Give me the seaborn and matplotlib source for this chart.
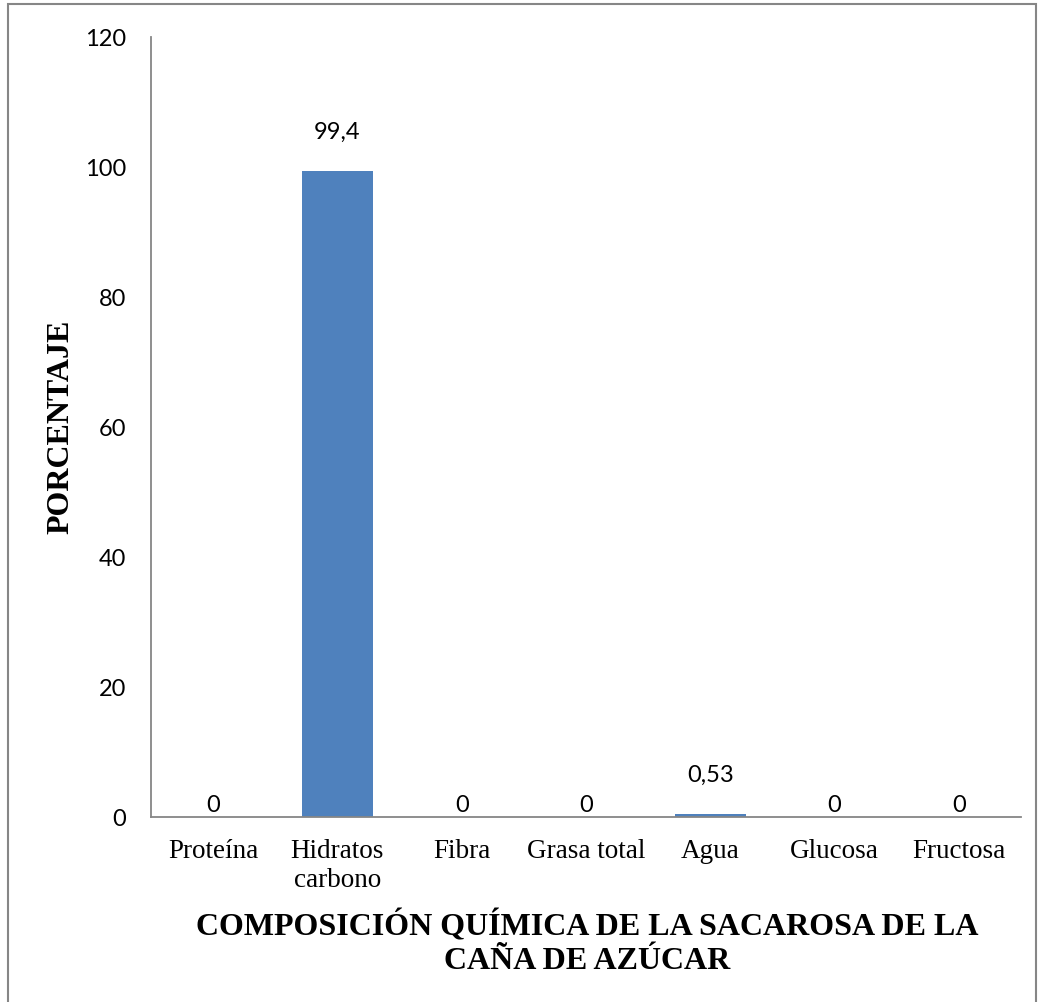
import matplotlib
matplotlib.use("Agg")
import matplotlib.pyplot as plt
from matplotlib.patches import Rectangle
import seaborn as sns
import pandas as pd

categorias = ["Proteína", "Hidratos\ncarbono", "Fibra", "Grasa total", "Agua", "Glucosa", "Fructosa"]
valores = [0, 99.4, 0, 0, 0.53, 0, 0]
etiquetas = ["0", "99,4", "0", "0", "0,53", "0", "0"]
yticks = [0, 20, 40, 60, 80, 100, 120]

sns.set_style("white")
plt.rcParams["text.color"] = "black"
plt.rcParams["xtick.color"] = "black"
plt.rcParams["ytick.color"] = "black"

df = pd.DataFrame({"categoria": categorias, "valor": valores})

fig = plt.figure(figsize=(10.38, 10.03), dpi=100)
ax = fig.add_axes([151 / 1038, 1 - 818 / 1003, (1021 - 151) / 1038, (818 - 38) / 1003])

sns.barplot(data=df, x="categoria", y="valor", color="#4F81BD", saturation=1,
            width=0.57, linewidth=0, ax=ax)

ax.set_ylim(0, 120)
ax.set_yticks(yticks)
ax.set_yticklabels([str(t) for t in yticks], fontfamily="Lato", fontsize=17)
ax.set_xlim(-0.5, len(categorias) - 0.5)
ax.tick_params(axis="y", length=0, pad=18)
ax.tick_params(axis="x", length=0, pad=15)
for lbl in ax.get_xticklabels():
    lbl.set_fontfamily("Liberation Serif")
    lbl.set_fontsize(19.5)
    lbl.set_linespacing(1.2)

for s in ["top", "right"]:
    ax.spines[s].set_visible(False)
for s in ["left", "bottom"]:
    ax.spines[s].set_color("#868686")
    ax.spines[s].set_linewidth(1.3)

# value labels: nonzero bars get a wider gap above the bar top
for i, (v, txt) in enumerate(zip(valores, etiquetas)):
    off = 21 if v > 0 else 1.5
    ax.annotate(txt, xy=(i, v), xytext=(0, off), textcoords="offset points",
                ha="center", va="bottom", fontfamily="Lato", fontsize=17)

ax.set_xlabel("")
ax.set_ylabel("")
fig.text(61 / 1038, 1 - 427 / 1003, "PORCENTAJE", rotation=90, ha="center", va="center",
         fontfamily="Liberation Serif", fontweight="bold", fontsize=23)
fig.text(587 / 1038, 1 - 943 / 1003,
         "COMPOSICIÓN QUÍMICA DE LA SACAROSA DE LA\nCAÑA DE AZÚCAR",
         ha="center", va="center", multialignment="center", linespacing=1.2,
         fontfamily="Liberation Serif", fontweight="bold", fontsize=23)

fig.patches.append(Rectangle((8 / 1038, -0.02), (1036 - 8) / 1038, 1.02 - 5 / 1003,
                             transform=fig.transFigure, fill=False,
                             edgecolor="#868686", linewidth=1.5))

fig.savefig("out.png", dpi=100, facecolor="white")
